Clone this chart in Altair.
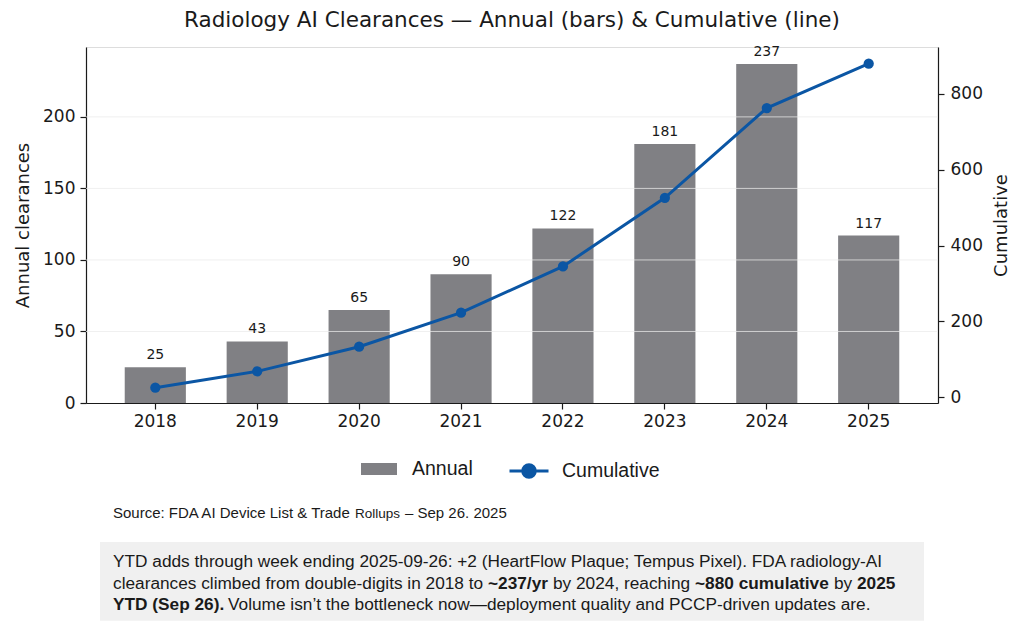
import altair as alt
import pandas as pd

# ---------------- data ----------------
years = ["2018", "2019", "2020", "2021", "2022", "2023", "2024", "2025"]
annual = [25, 43, 65, 90, 122, 181, 237, 117]
cumulative = [25, 68, 133, 223, 345, 526, 763, 880]
left_ticks = [0, 50, 100, 150, 200]
right_ticks = [0, 200, 400, 600, 800]
grid_values = [50, 100, 150, 200]

title_text = "Radiology AI Clearances \u2014 Annual (bars) & Cumulative (line)"
source_parts = ["Source: FDA AI Device List & Trade", "Rollups", "\u2013 Sep 26. 2025"]
note_line1 = "YTD adds through week ending 2025-09-26: +2 (HeartFlow Plaque; Tempus Pixel). FDA radiology-AI"
note_line2 = [("clearances climbed from double-digits in 2018 to", False), ("~237/yr", True),
              ("by 2024, reaching", False), ("~880 cumulative", True), ("by", False), ("2025", True)]
note_line3 = [("YTD (Sep 26).", True),
              ("Volume isn\u2019t the bottleneck now\u2014deployment quality and PCCP-driven updates are.", False)]

df = pd.DataFrame({"year": years, "annual": annual, "cumulative": cumulative})
grid_df = pd.DataFrame({"g": grid_values})
one = pd.DataFrame({"k": [0]})

GRAY = "#808084"
BLUE = "#0b56a4"
INK = "#1a1a1a"
FONT = "DejaVu Sans"
NFONT = "Liberation Sans"

W, H = 852, 356

X = alt.X("year:O", title=None, sort=years,
          scale=alt.Scale(paddingInner=0.4, paddingOuter=0.38),
          axis=alt.Axis(labelAngle=0, labelFont=FONT, labelFontSize=17, labelColor=INK,
                        tickSize=6, tickColor=INK, tickWidth=1.2, domainColor=INK,
                        domainWidth=1.2, labelPadding=4))

yl_scale = alt.Scale(domain=[0, 248.85], nice=False, zero=False)
yl_axis = alt.Axis(values=left_ticks, title="Annual clearances", titleFont=FONT,
                   titleFontSize=18, titleFontWeight="normal", titleColor=INK,
                   titlePadding=10, labelFont=FONT, labelFontSize=17, labelColor=INK,
                   tickSize=6, tickColor=INK, tickWidth=1.2, domainColor=INK,
                   domainWidth=1.2, labelPadding=5, grid=False)

yr_scale = alt.Scale(domain=[-15.5, 924], nice=False, zero=False)
yr_axis = alt.Axis(orient="right", values=right_ticks, title="Cumulative", titleFont=FONT,
                   titleFontSize=18, titleFontWeight="normal", titleColor=INK,
                   titlePadding=10, titleAngle=270, titleBaseline="top",
                   labelFont=FONT, labelFontSize=17, labelColor=INK,
                   tickSize=6, tickColor=INK, tickWidth=1.2, domainColor=INK,
                   domainWidth=1.2, labelPadding=6, grid=False)

rect_path = "M-1,-0.333H1V0.333H-1Z"
line_path = "M-1,0H1M0.323,0A0.323,0.323,0,1,1,-0.323,0A0.323,0.323,0,1,1,0.323,0Z"

bars = alt.Chart(df).transform_calculate(series="'Annual'").mark_bar().encode(
    x=X,
    y=alt.Y("annual:Q", scale=yl_scale, axis=yl_axis),
    fill=alt.Fill("series:N", scale=alt.Scale(domain=["Annual"], range=[GRAY]),
                  legend=alt.Legend(orient="none", legendX=275, legendY=404, title=None,
                                    symbolType=rect_path, symbolSize=1296,
                                    symbolStrokeWidth=0, labelFont=NFONT,
                                    labelFontSize=19.5, labelColor=INK, labelOffset=15,
                                    padding=0)),
)

grid = alt.Chart(grid_df).mark_rule(color="#e9e9e9", opacity=0.75, strokeWidth=1).encode(
    y=alt.Y("g:Q", scale=yl_scale, axis=yl_axis)
)

bar_labels = alt.Chart(df).mark_text(font=FONT, fontSize=14, color=INK,
                                     baseline="alphabetic", dy=-8).encode(
    x=X,
    y=alt.Y("annual:Q", scale=yl_scale, axis=yl_axis),
    text=alt.Text("annual:Q"),
)

left = alt.layer(bars, grid, bar_labels)

line = alt.Chart(df).transform_calculate(series="'Cumulative'").mark_line(strokeWidth=3).encode(
    x=X,
    y=alt.Y("cumulative:Q", scale=yr_scale, axis=yr_axis),
    stroke=alt.Stroke("series:N", scale=alt.Scale(domain=["Cumulative"], range=[BLUE]),
                      legend=alt.Legend(orient="none", legendX=422, legendY=403, title=None,
                                        symbolType=line_path, symbolSize=1521,
                                        symbolStrokeWidth=3, symbolFillColor=BLUE,
                                        labelFont=NFONT, labelFontSize=19.5,
                                        labelColor=INK, labelOffset=12, padding=0)),
)

points = alt.Chart(df).mark_circle(size=105, color=BLUE, opacity=1).encode(
    x=X,
    y=alt.Y("cumulative:Q", scale=yr_scale, axis=yr_axis),
)

right = alt.layer(line, points)


def txt(s, x, y, size, bold=False, font=NFONT):
    return alt.Chart(one).mark_text(align="left", baseline="alphabetic", font=font,
                                    fontSize=size,
                                    fontWeight="bold" if bold else "normal",
                                    color=INK).encode(
        x=alt.value(x), y=alt.value(y), text=alt.value(s))


box = alt.Chart(one).mark_rect(color="#f0f0f0").encode(
    x=alt.value(14), x2=alt.value(838), y=alt.value(495), y2=alt.value(573.7))

notes = [box,
         txt(source_parts[0], 27, 471.3, 15),
         txt(source_parts[1], 269, 471.3, 13.5),
         txt(source_parts[2], 319, 471.3, 15),
         txt(note_line1, 27, 520, 17.25)]
x2 = [27, 402, 467, 609, 748, 771]
for (s, b), xx in zip(note_line2, x2):
    notes.append(txt(s, xx, 541.5, 17.25, b))
x3 = [27, 142]
for (s, b), xx in zip(note_line3, x3):
    notes.append(txt(s, xx, 562.5, 17.25, b))

chart = alt.layer(left, right, *notes).resolve_scale(
    y="independent", fill="independent", stroke="independent"
).properties(
    width=W, height=H,
    title=alt.Title(title_text, font=FONT, fontSize=21.5, fontWeight="normal", color=INK,
                    anchor="middle", offset=13),
    autosize=alt.AutoSizeParams(type="none"),
    padding={"left": 78, "top": 39, "right": 78, "bottom": 218},
).configure_view(stroke=None).configure(background="white")

chart.save("out.html", embed_options={"renderer": "svg", "actions": False})
